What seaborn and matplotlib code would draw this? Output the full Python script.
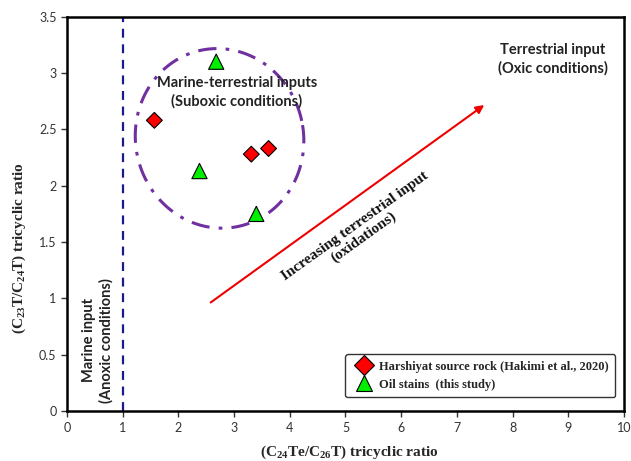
import matplotlib
matplotlib.use("Agg")
import matplotlib.pyplot as plt
import numpy as np
import pandas as pd
import seaborn as sns

# data
rock_x = [1.57, 3.31, 3.62]
rock_y = [2.58, 2.28, 2.33]
oil_x = [2.68, 2.38, 3.40]
oil_y = [3.10, 2.13, 1.75]
rock_label = "Harshiyat source rock (Hakimi et al., 2020)"
oil_label = "Oil stains  (this study)"
x_ticks = list(range(0, 11))
y_ticks = [0, 0.5, 1, 1.5, 2, 2.5, 3, 3.5]

df = pd.DataFrame({
    "x": rock_x + oil_x,
    "y": rock_y + oil_y,
    "group": [rock_label] * len(rock_x) + [oil_label] * len(oil_x),
})

sns.set_style("white")
plt.rcParams["font.family"] = ["Lato", "DejaVu Sans"]
plt.rcParams["mathtext.fontset"] = "custom"
plt.rcParams["mathtext.rm"] = "Liberation Serif:bold"
plt.rcParams["mathtext.it"] = "Liberation Serif:bold"
plt.rcParams["mathtext.bf"] = "Liberation Serif:bold"

fig = plt.figure(figsize=(6.31, 4.61), dpi=100)
ax = fig.add_axes([0.106, 0.108, 0.883, 0.856])

sns.scatterplot(data=df, x="x", y="y", hue="group", style="group", size="group",
                markers={rock_label: "D", oil_label: "^"},
                palette={rock_label: "#ff0000", oil_label: "#00ee00"},
                sizes={rock_label: 65, oil_label: 120},
                edgecolor="black", linewidth=0.8, ax=ax, zorder=5)

ax.set_xlim(0, 10)
ax.set_ylim(0, 3.5)
ax.set_xticks(x_ticks)
ax.set_yticks(y_ticks)
ax.set_yticklabels([f"{v:g}" for v in y_ticks])
ax.tick_params(axis="both", labelsize=9, length=4, width=1, direction="out",
               colors="#333333", labelcolor="#333333")
ax.tick_params(bottom=True, left=True)
for sp in ax.spines.values():
    sp.set_color("black")
    sp.set_linewidth(1.8)

serif = ["Liberation Serif", "DejaVu Serif"]
ax.set_xlabel("(C$_{24}$Te/C$_{26}$T) tricyclic ratio", fontsize=11,
              fontweight="bold", family=serif, va="center")
ax.set_ylabel("(C$_{23}$T/C$_{24}$T) tricyclic ratio", fontsize=11,
              fontweight="bold", family=serif, va="center")
ax.xaxis.set_label_coords(0.507, -0.103)
ax.yaxis.set_label_coords(-0.086, 0.414)

# marine boundary
ax.axvline(1, color="#1a1a8c", linestyle=(0, (4, 3)), linewidth=1.6)

# suboxic ellipse (drawn in pixel-like units then mapped to data)
sx, sy = 55.7, 112.7
t = np.linspace(0, 2 * np.pi, 300)
a, b, th = 84, 90, np.deg2rad(12)
ex = a * np.cos(t) * np.cos(th) - b * np.sin(t) * np.sin(th)
ey = a * np.cos(t) * np.sin(th) + b * np.sin(t) * np.cos(th)
ax.plot(2.74 + ex / sx, 2.42 + ey / sy, color="#7030a0", linewidth=2.2,
        linestyle=(0, (6, 3, 1.2, 3)))

# trend arrow
ax.annotate("", xy=(7.53, 2.73), xytext=(2.54, 0.95),
            arrowprops=dict(arrowstyle="-|>", color="#ee0000", lw=1.5,
                            mutation_scale=12))

ax.text(3.05, 2.83, "Marine-terrestrial inputs\n(Suboxic conditions)",
        ha="center", va="center", fontsize=10.5, fontweight="bold",
        color="#222222", linespacing=1.3)
ax.text(8.72, 3.12, "Terrestrial input\n(Oxic conditions)",
        ha="center", va="center", fontsize=10.5, fontweight="bold",
        color="#222222", linespacing=1.3)
ax.text(0.55, 0.63, "Marine input\n(Anoxic conditions)", rotation=90,
        ha="center", va="center", fontsize=10.5, fontweight="bold",
        color="#222222", linespacing=1.3)
ax.text(5.25, 1.59, "Increasing terrestrial input\n(oxidations)",
        rotation=35.7, rotation_mode="anchor", ha="center", va="center",
        fontsize=11, fontweight="bold", family=serif, color="#111111",
        linespacing=1.05)

handles, labels = ax.get_legend_handles_labels()
for h, s in zip(handles, [10, 12]):
    h.set_markersize(s)
leg = ax.legend(handles, labels, loc="lower right", frameon=True,
                fancybox=True, edgecolor="#333333", framealpha=1,
                prop={"family": serif, "weight": "bold", "size": 9},
                handletextpad=0.2, borderpad=0.5, markerscale=1.0,
                bbox_to_anchor=(0.995, 0.02))
leg.get_frame().set_linewidth(1.0)

fig.savefig("out.png", dpi=100)
